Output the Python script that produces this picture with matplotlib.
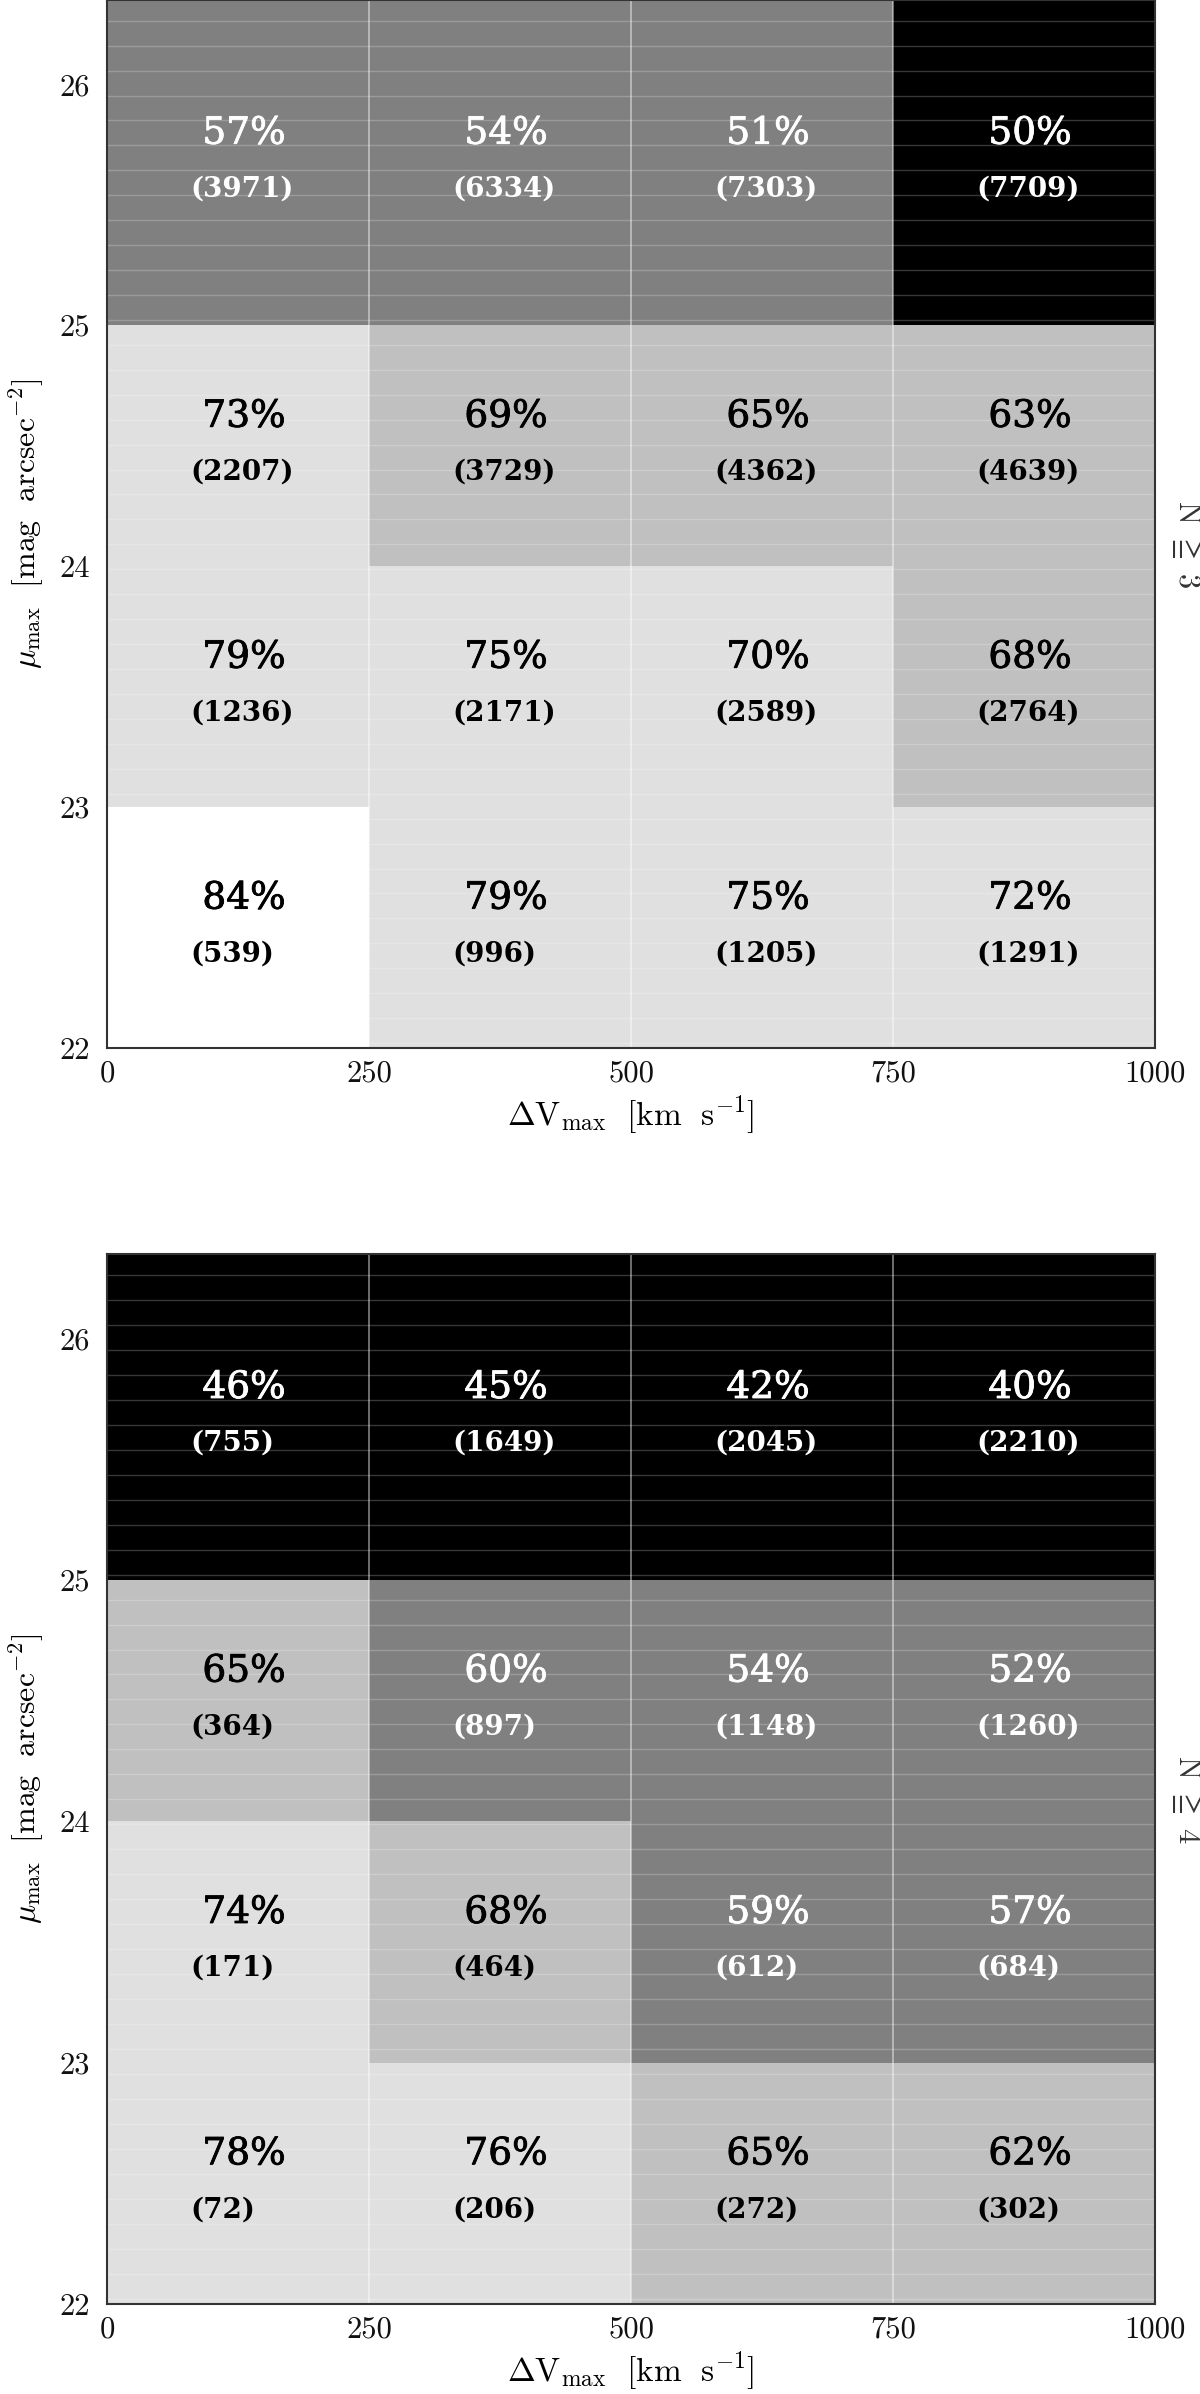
import numpy as np
import matplotlib
matplotlib.use("Agg")
import matplotlib.pyplot as plt
import matplotlib.patheffects as pe
from matplotlib.colors import ListedColormap

plt.rcParams['mathtext.fontset'] = 'cm'

# ---- data ----
dv_edges = [0, 250, 500, 750, 1000]
mu_edges = [22, 23, 24, 25, 26.35]
x_ticks = [0, 250, 500, 750, 1000]
x_ticklabels = ['0', '250', '500', '750', '1000']
y_ticks = [22, 23, 24, 25, 26]
y_ticklabels = ['22', '23', '24', '25', '26']

# rows from bottom (22-23) to top (25-26.35), columns 0-250 ... 750-1000
pct_n3 = [[84, 79, 75, 72],
          [79, 75, 70, 68],
          [73, 69, 65, 63],
          [57, 54, 51, 50]]
cnt_n3 = [[539, 996, 1205, 1291],
          [1236, 2171, 2589, 2764],
          [2207, 3729, 4362, 4639],
          [3971, 6334, 7303, 7709]]
shade_n3 = [[4, 3, 3, 3],
            [3, 3, 3, 2],
            [3, 2, 2, 2],
            [1, 1, 1, 0]]

pct_n4 = [[78, 76, 65, 62],
          [74, 68, 59, 57],
          [65, 60, 54, 52],
          [46, 45, 42, 40]]
cnt_n4 = [[72, 206, 272, 302],
          [171, 464, 612, 684],
          [364, 897, 1148, 1260],
          [755, 1649, 2045, 2210]]
shade_n4 = [[3, 3, 2, 2],
            [3, 2, 1, 1],
            [2, 1, 1, 1],
            [0, 0, 0, 0]]

panel_labels = [r'$\mathrm{N}\ \geqq\ 3$', r'$\mathrm{N}\ \geqq\ 4$']

gray_cmap = ListedColormap(['#000000', '#808080', '#c0c0c0', '#e0e0e0', '#ffffff'])

W, H = 1200, 2394
fig = plt.figure(figsize=(W / 100, H / 100), dpi=100)

ax_top = fig.add_axes([107 / W, 1 - 1048 / H, 1048 / W, 1048 / H])
ax_bot = fig.add_axes([107 / W, 1 - 2304 / H, 1048 / W, 1050 / H])

panels = [(ax_top, pct_n3, cnt_n3, shade_n3, panel_labels[0]),
          (ax_bot, pct_n4, cnt_n4, shade_n4, panel_labels[1])]

for ax, pct, cnt, shade, plabel in panels:
    ax.pcolormesh(dv_edges, mu_edges, np.array(shade), cmap=gray_cmap,
                  vmin=-0.5, vmax=4.5, shading='flat', antialiased=False)
    ax.set_xlim(dv_edges[0], dv_edges[-1])
    ax.set_ylim(mu_edges[0], mu_edges[-1])

    # faint horizontal seams of the fine-binned map
    for yy in np.arange(26.264, 22.0, -0.1035):
        ax.axhline(yy, color='white', alpha=0.22, lw=1.0, zorder=2)
    # vertical bin separators
    for xx in dv_edges[1:-1]:
        ax.axvline(xx, color='white', alpha=0.55, lw=1.1, zorder=2)

    for i in range(len(pct)):
        ymid = 0.5 * (mu_edges[i] + mu_edges[i + 1])
        for j in range(len(pct[i])):
            xl = dv_edges[j]
            col = 'white' if shade[i][j] <= 1 else 'black'
            ax.text(xl + 91, ymid + 0.12, f'{pct[i][j]}%', ha='left', va='center',
                    fontsize=27, fontfamily='DejaVu Serif', color=col, zorder=3,
                    path_effects=[pe.withStroke(linewidth=0.6, foreground=col)])
            ax.text(xl + 80, ymid - 0.11, f'({cnt[i][j]})', ha='left', va='center',
                    fontsize=20, fontfamily='DejaVu Serif', weight='bold', color=col, zorder=3)

    ax.set_xticks(x_ticks, labels=x_ticklabels, family='cmr10')
    ax.set_yticks(y_ticks, labels=y_ticklabels, family='cmr10')
    ax.tick_params(axis='both', length=0, labelsize=22, colors='#111111')
    ax.tick_params(axis='x', pad=9)
    ax.tick_params(axis='y', pad=12)
    for s in ax.spines.values():
        s.set_color('#333333')
        s.set_linewidth(1.5)
        s.set_zorder(4)

    ax.set_xlabel(r'$\Delta\mathrm{V}_{\mathrm{max}}\ \ [\mathrm{km\ \ s^{-1}}]$',
                  fontsize=24, labelpad=4)
    ax.set_ylabel(r'$\mu_{\mathrm{max}}\ \ [\mathrm{mag\ \ arcsec^{-2}}]$',
                  fontsize=23, labelpad=10)

    bb = ax.get_position()
    fig.text(1187 / W, bb.y0 + bb.height / 2 - 20 / H, plabel, rotation=270,
             ha='center', va='center', fontsize=22, color='#333333')

fig.savefig('out.png', dpi=100)
